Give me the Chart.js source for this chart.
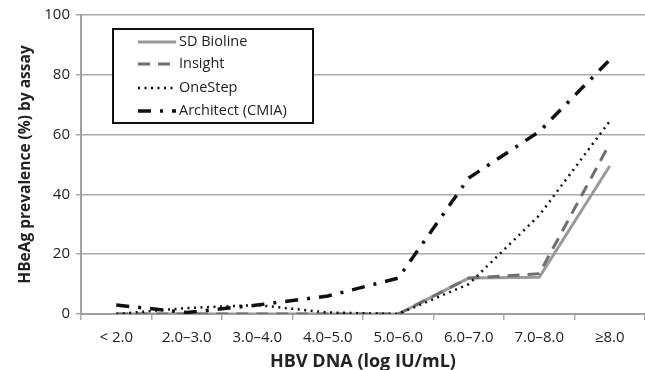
<!DOCTYPE html>
<html><head><meta charset="utf-8">
<script src="https://cdn.jsdelivr.net/npm/chart.js@4"></script>
<style>html,body{margin:0;padding:0;background:#fff}#wrap{width:645px;height:370px;position:relative}</style>
</head><body><div id="wrap"><canvas id="c" width="645" height="370"></canvas></div>
<script>
const categories = ["< 2.0","2.0\u20133.0","3.0\u20134.0","4.0\u20135.0","5.0\u20136.0","6.0\u20137.0","7.0\u20138.0","\u22658.0"];
const sdBioline = [0,0,0,0,0,12,12.3,49.5];
const insight   = [0,0,0,0,0,12,13.5,57];
const oneStep   = [0,2,3,0.5,0,10,33,64.5];
const architect = [3,0.5,3,6,12,45.5,61,85];
const yTicks = [0,20,40,60,80,100];
const FONT = "'Open Sans', sans-serif";

const legendPlugin = {
  id:'boxLegend',
  afterDraw(chart){
    const ctx = chart.ctx;
    const x0=113,y0=29,w=200,h=94;
    ctx.save();
    ctx.fillStyle='#fff';ctx.fillRect(x0,y0,w,h);
    ctx.strokeStyle='#111';ctx.lineWidth=2;ctx.strokeRect(x0,y0,w,h);
    const rows=[42,64,88,111];
    chart.data.datasets.slice().sort((a,b)=>a.order2-b.order2).forEach((ds,i)=>{
      const y=rows[i];
      ctx.beginPath();
      ctx.setLineDash(ds.borderDash||[]);
      ctx.strokeStyle=ds.borderColor;ctx.lineWidth=ds.borderWidth;
      ctx.moveTo(138,y);ctx.lineTo(176,y);ctx.stroke();
      ctx.setLineDash([]);
      ctx.fillStyle='#222';ctx.font='14.5px '+FONT;ctx.textBaseline='middle';ctx.textAlign='left';
      ctx.fillText(ds.label,179,y);
    });
    ctx.restore();
  }
};

new Chart(document.getElementById('c'),{
  type:'line',
  data:{labels:categories,datasets:[
    {label:'SD Bioline',data:sdBioline,borderColor:'#9a9a9a',borderWidth:3,order2:0,order:4},
    {label:'Insight',data:insight,borderColor:'#6f6f6f',borderWidth:3,borderDash:[12,8],order2:1,order:3},
    {label:'OneStep',data:oneStep,borderColor:'#111',borderWidth:2.5,borderDash:[2,4.5],order2:2,order:2},
    {label:'Architect (CMIA)',data:architect,borderColor:'#111',borderWidth:3.5,borderDash:[13,9,3,9],order2:3,order:1}
  ]},
  options:{
    responsive:false,animation:false,
    layout:{padding:{top:15,right:0,left:0,bottom:0}},
    elements:{point:{radius:0},line:{tension:0,borderCapStyle:'butt'}},
    plugins:{legend:{display:false},tooltip:{enabled:false}},
    scales:{
      x:{
        offset:true,
        grid:{offset:true,drawOnChartArea:false,drawTicks:true,tickLength:6,color:'#aaa',lineWidth:1.5},
        border:{color:'#a0a0a0',width:2},
        ticks:{color:'#222',font:{family:FONT,size:15},padding:9,maxRotation:0,autoSkip:false},
        title:{display:true,text:'HBV DNA (log IU/mL)',color:'#222',font:{family:FONT,size:18,weight:'bold'},padding:{top:4,bottom:-3}},
        afterFit(s){s.height=56;}
      },
      y:{
        min:0,max:100,
        afterBuildTicks(s){s.ticks=yTicks.map(v=>({value:v}));},
        grid:{color:'#aaa',lineWidth:1.5,tickLength:5},
        border:{color:'#a0a0a0',width:2},
        ticks:{color:'#222',font:{family:FONT,size:15},padding:6},
        title:{display:true,text:'HBeAg prevalence (%) by assay',color:'#222',font:{family:FONT,size:15.5,weight:'bold'},padding:{top:16,bottom:4}},
        afterFit(s){s.width=81;}
      }
    }
  },
  plugins:[legendPlugin]
});
</script></body></html>
